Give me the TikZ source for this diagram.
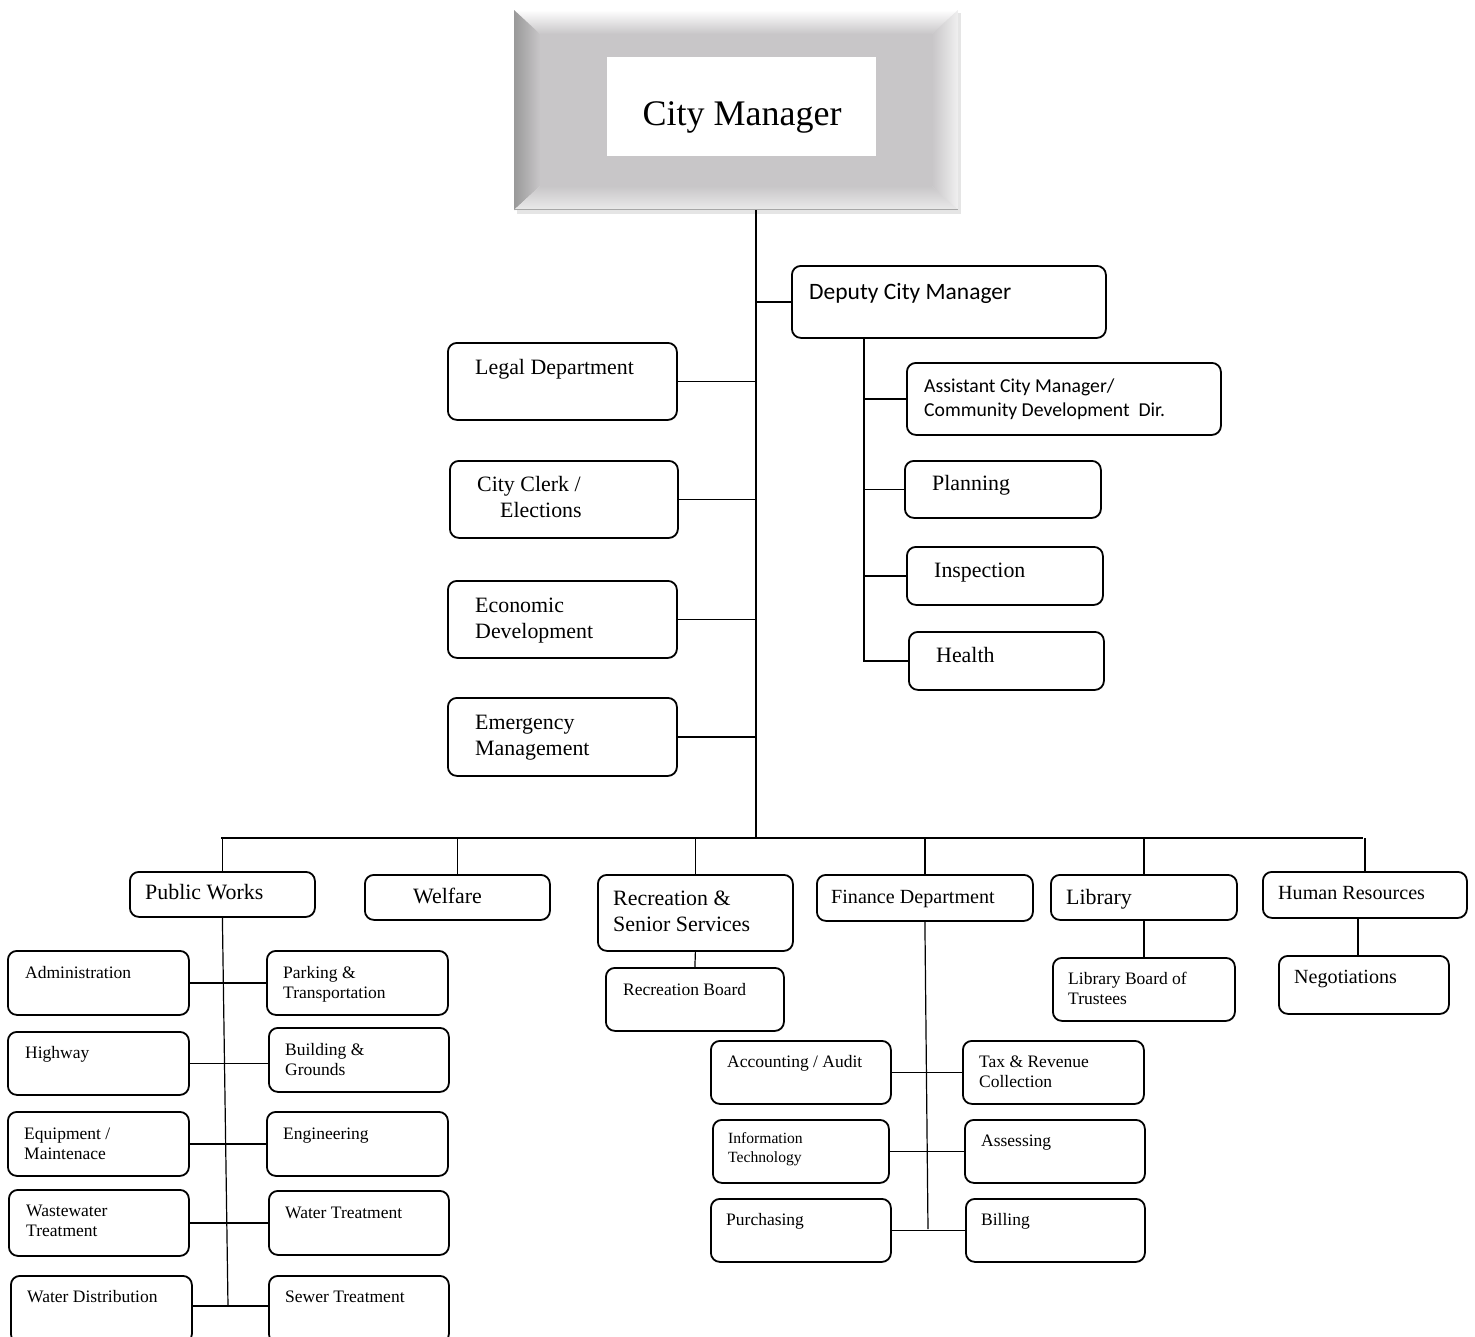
\documentclass[tikz,border=0pt]{standalone}
\usepackage{fontspec}
\setmainfont{Liberation Serif}
\newfontfamily\calfont{Carlito}
\definecolor{cmgray}{RGB}{200,198,200}
\newcommand\ob[5]{\node[obox, minimum width={#4pt-#2pt}, minimum height={#5pt-#3pt}] (#1) at (#2,#3) {};}
\newcommand\tx[4]{\node[lbl,#1] (#2) at #3 {\spaceskip=0pt\xspaceskip=0pt\relax #4};}
\begin{document}
\begin{tikzpicture}[x=1pt,y=-1pt,
 obox/.style={draw, line width=1.8pt, rounded corners=9pt, anchor=north west, inner sep=0pt},
 lbl/.style={anchor=base west, inner sep=0pt, align=left, text width=330pt},
 big/.style={font=\fontsize{21.9}{26}\selectfont},
 sml/.style={font=\fontsize{17.5}{20.5}\selectfont},
 tiny/.style={font=\fontsize{15.6}{19.5}\selectfont},
 mid/.style={font=\fontsize{20.1}{24}\selectfont},
 conn/.style={line width=1.7pt},
 thinc/.style={line width=1.2pt}]
\useasboundingbox (0,0) rectangle (1475,1336);
\fill[white] (0,0) rectangle (1475,1336);

% City Manager bevel box
\fill[black!10] (517,13) rectangle (961,214);
\node[anchor=north west, minimum width=444pt, minimum height=200pt, inner sep=0pt] (cm) at (514,10) {};
\fill[cmgray] (540,34) rectangle (932,186);
\shade[top color=white, bottom color=cmgray] (514,10) -- (958,10) -- (932,34) -- (540,34) -- cycle;
\shade[left color=black!40, right color=cmgray] (514,10) -- (540,34) -- (540,186) -- (514,210) -- cycle;
\shade[left color=cmgray, right color=black!6] (958,10) -- (932,34) -- (932,186) -- (958,210) -- cycle;
\shade[top color=cmgray, bottom color=black!8] (514,210) -- (958,210) -- (932,186) -- (540,186) -- cycle;
\draw[black!35, line width=1pt] (514,209) -- (958,209);
\node[fill=white, anchor=north west, minimum width=269pt, minimum height=99pt, inner sep=0pt] (cmin) at (607,57) {};
\node[anchor=base, inner sep=0pt, font=\fontsize{36}{40}\selectfont] (cmt) at (742,125) {City Manager};

% second level
\ob{deputy}{791}{265}{1105}{337}
\ob{legal}{447}{342}{676}{419}
\ob{clerk}{449}{460}{677}{537}
\ob{econ}{447}{580}{676}{657}
\ob{emerg}{447}{697}{676}{775}
\ob{asst}{906}{362}{1220}{434}
\ob{plan}{904}{460}{1100}{517}
\ob{insp}{906}{546}{1102}{604}
\ob{health}{908}{631}{1103}{689}

\tx{font=\calfont\fontsize{23.5}{28}\selectfont}{tdep}{(809,299)}{Deputy City Manager}
\tx{big}{tlegal}{(475,374)}{Legal Department}
\tx{big}{tclerk}{(477,491)}{City Clerk /\\\hspace*{23pt}Elections}
\tx{big}{tecon}{(475,612)}{Economic\\Development}
\tx{big}{temerg}{(475,729)}{Emergency\\Management}
\tx{font=\calfont\fontsize{19.7}{24.5}\selectfont}{tasst}{(924,392)}{Assistant City Manager/\\Community Development~ Dir.}
\tx{big}{tplan}{(932,490)}{Planning}
\tx{big}{tinsp}{(934,577)}{Inspection}
\tx{big}{thealth}{(936,662)}{Health}

% third level
\ob{pw}{129}{871}{314}{916}
\ob{welf}{364}{874}{549}{919}
\ob{rec}{597}{874}{792}{950}
\ob{fin}{816}{874}{1032}{920}
\ob{lib}{1050}{874}{1236}{919}
\ob{hr}{1262}{871}{1466}{917}

\tx{big}{tpw}{(145,899)}{Public Works}
\tx{big}{twelf}{(413,903)}{Welfare}
\tx{big}{trec}{(613,905)}{Recreation \&\\Senior Services}
\tx{mid}{tfin}{(831,903)}{Finance Department}
\tx{big}{tlib}{(1066,904)}{Library}
\tx{mid}{thr}{(1278,899)}{Human Resources}

% public works subs
\ob{adm}{7}{950}{188}{1014}
\ob{hwy}{7}{1031}{188}{1094}
\ob{equip}{7}{1111}{188}{1175}
\ob{waste}{8}{1189}{188}{1255}
\ob{wdist}{10}{1275}{191}{1342}
\ob{park}{266}{950}{447}{1014}
\ob{bldg}{268}{1027}{448}{1091}
\ob{eng}{266}{1111}{447}{1175}
\ob{wtreat}{268}{1190}{448}{1254}
\ob{sewer}{268}{1275}{448}{1342}

\tx{sml}{tadm}{(25,978)}{Administration}
\tx{sml}{thwy}{(25,1058)}{Highway}
\tx{sml}{tequip}{(24,1139)}{Equipment /\\Maintenace}
\tx{sml}{twaste}{(26,1216)}{Wastewater\\Treatment}
\tx{sml}{twdist}{(27,1302)}{Water Distribution}
\tx{sml}{tpark}{(283,978)}{Parking \&\\Transportation}
\tx{sml}{tbldg}{(285,1055)}{Building \&\\Grounds}
\tx{sml}{teng}{(283,1139)}{Engineering}
\tx{sml}{twtreat}{(285,1218)}{Water Treatment}
\tx{sml}{tsewer}{(285,1302)}{Sewer Treatment}

% recreation / finance / library / hr subs
\ob{recb}{605}{967}{783}{1030}
\ob{acc}{710}{1040}{890}{1103}
\ob{it}{712}{1119}{888}{1182}
\ob{purch}{710}{1198}{890}{1261}
\ob{tax}{962}{1040}{1143}{1103}
\ob{assess}{964}{1119}{1144}{1182}
\ob{bill}{965}{1198}{1144}{1261}
\ob{libb}{1052}{957}{1234}{1020}
\ob{neg}{1278}{955}{1448}{1013}

\tx{sml}{trecb}{(623,995)}{Recreation Board}
\tx{sml}{tacc}{(727,1067)}{Accounting / Audit}
\tx{tiny}{tit}{(728,1143)}{Information\\Technology}
\tx{sml}{tpurch}{(726,1225)}{Purchasing}
\tx{sml}{ttax}{(979,1067)}{Tax \& Revenue\\Collection}
\tx{sml}{tassess}{(981,1146)}{Assessing}
\tx{sml}{tbill}{(981,1225)}{Billing}
\tx{sml}{tlibb}{(1068,984)}{Library Board of\\Trustees}
\tx{mid}{tneg}{(1294,983)}{Negotiations}

% main spine
\coordinate (m0) at (756,210);
\coordinate (bus) at (756,838);
\coordinate (busL) at (221,838);
\coordinate (busR) at (1363,838);
\draw[conn] (m0) -- (bus);
\draw[thinc] (deputy.west -| bus) -- (deputy.west);
\foreach \b in {legal,clerk,econ,emerg} \draw[conn] (\b.east) -- (\b.east -| bus);

% deputy branch
\coordinate (d0) at (864,337);
\draw[thinc] (d0) |- (health.west);
\foreach \b in {asst,plan,insp} \draw[thinc] (\b.west -| d0) -- (\b.west);

% bus and drops
\draw[thinc] (busL) -- (busR);
\foreach \b in {pw,welf,rec,fin,lib,hr} \draw[thinc] (\b.north |- bus) -- (\b.north);
\draw[thinc] (rec.south) -- (recb.north);
\draw[conn] (lib.south) -- (libb.north);
\draw[conn] (hr.south -| 1358,0) -- (neg.north -| 1358,0);

% public works stem
\coordinate (pwb) at (228,1306);
\draw[thinc] (pw.south) -- (pwb);
\draw[conn] (adm.east) -- (adm.east -| park.west);
\draw[conn] (hwy.east) -- (hwy.east -| bldg.west);
\draw[thinc] (equip.east) -- (equip.east -| eng.west);
\draw[conn] (waste.east) -- (waste.east -| wtreat.west);
\draw[conn] (wdist.east |- pwb) -- (pwb -| sewer.west);

% finance stem
\coordinate (finb) at (928,1229);
\draw[thinc] (fin.south) -- (finb);
\draw[conn] (acc.east) -- (acc.east -| tax.west);
\draw[thinc] (it.east) -- (it.east -| assess.west);
\draw[thinc] (purch.east) -- (purch.east -| bill.west);
\end{tikzpicture}
\end{document}
